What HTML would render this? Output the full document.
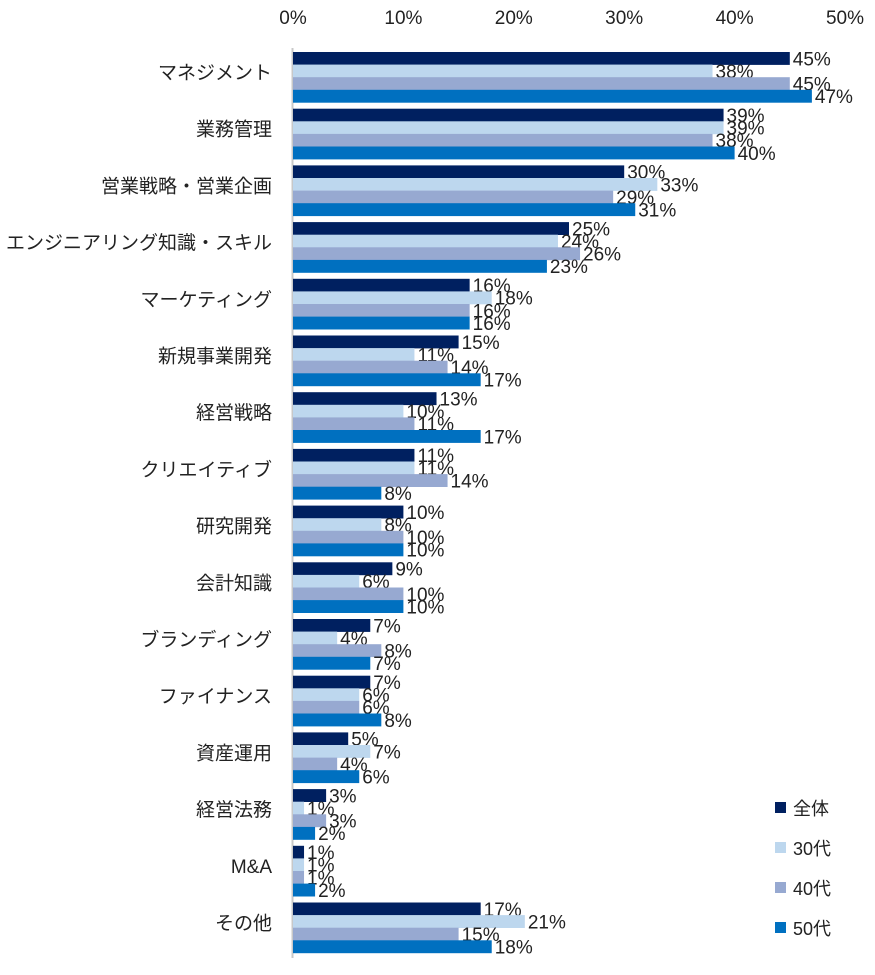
<!DOCTYPE html>
<html><head><meta charset="utf-8"><style>
body{margin:0;background:#fff}
svg text{font-family:"Liberation Sans","Noto Sans CJK JP",sans-serif;fill:#222}
</style></head><body>
<svg id="c" width="875" height="970" xmlns="http://www.w3.org/2000/svg"></svg>
<script>
const categories=["マネジメント","業務管理","営業戦略・営業企画","エンジニアリング知識・スキル","マーケティング","新規事業開発","経営戦略","クリエイティブ","研究開発","会計知識","ブランディング","ファイナンス","資産運用","経営法務","M&A","その他"];
const seriesNames=["全体","30代","40代","50代"];
const s0=[45,39,30,25,16,15,13,11,10,9,7,7,5,3,1,17];
const s30=[38,39,33,24,18,11,10,11,8,6,4,6,7,1,1,21];
const s40=[45,38,29,26,16,14,11,14,10,10,8,6,4,3,1,15];
const s50=[47,40,31,23,16,17,17,8,10,10,7,8,6,2,2,18];
const ticks=[0,10,20,30,40,50];
const colors=["#002060","#BDD7EE","#97A9D1","#0070C0"];
const series=[s0,s30,s40,s50];
const NS="http://www.w3.org/2000/svg";
const svg=document.getElementById('c');
const X0=293,PX=11.04,TOP=52,PITCH=56.7,BH=12.6;
const x=v=>X0+v*PX;
function mk(t,a,txt){const e=document.createElementNS(NS,t);for(const k in a)e.setAttribute(k,a[k]);if(txt!==undefined)e.textContent=txt;svg.appendChild(e);return e;}
ticks.forEach(t=>{const e=mk('text',{x:x(t),y:24,'font-size':19,'text-anchor':'middle'},t+'%');

});
const ax=mk('line',{x1:X0-0.5,x2:X0-0.5,y1:48,y2:958,stroke:'#c8c8c8','stroke-width':2});


categories.forEach((c,i)=>{
 const gy=TOP+i*PITCH;
 const l=mk('text',{x:272,y:gy+27,'font-size':19,'text-anchor':'end'},c);
 
 
 series.forEach((s,j)=>{
  const y=gy+j*BH;
  const r=mk('rect',{x:X0,y:y,width:s[i]*PX,height:BH+0.3,fill:colors[j]});
  
  
  const t=mk('text',{x:x(s[i])+3,y:y+BH/2+7,'font-size':19},s[i]+'%');
  
  
 });
});
seriesNames.forEach((n,j)=>{
 const y=808+j*40;
 const r=mk('rect',{x:775,y:y-6,width:11,height:11,fill:colors[j]});
 
 
 const t=mk('text',{x:793,y:y+7,'font-size':18},n);
 
 
});
</script>
</body></html>
